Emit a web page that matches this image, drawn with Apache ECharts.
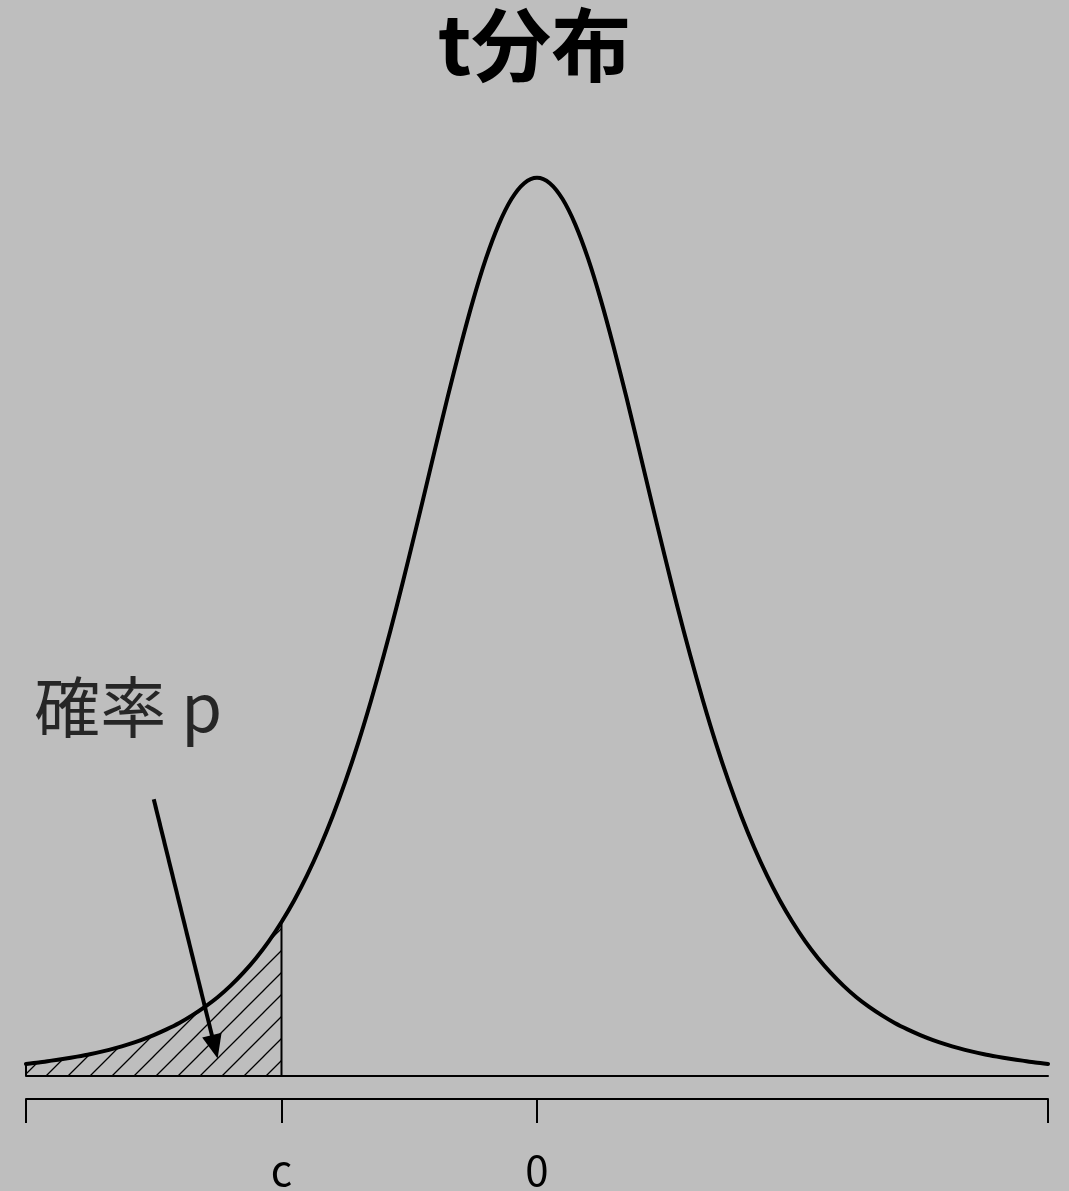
<!DOCTYPE html>
<html>
<head>
<meta charset="utf-8">
<script src="https://cdn.jsdelivr.net/npm/echarts@6/dist/echarts.min.js"></script>
<style>
html,body{margin:0;padding:0;background:#bebebe;}
#main{width:1069px;height:1191px;}
</style>
</head>
<body>
<div id="main"></div>
<script>
// t distribution curve (x from -4 to 4, step 0.1)
var xs = [-4.0, -3.9, -3.8, -3.7, -3.6, -3.5, -3.4, -3.3, -3.2, -3.1,
          -3.0, -2.9, -2.8, -2.7, -2.6, -2.5, -2.4, -2.3, -2.2, -2.1,
          -2.0, -1.9, -1.8, -1.7, -1.6, -1.5, -1.4, -1.3, -1.2, -1.1,
          -1.0, -0.9, -0.8, -0.7, -0.6, -0.5, -0.4, -0.3, -0.2, -0.1,
           0.0,  0.1,  0.2,  0.3,  0.4,  0.5,  0.6,  0.7,  0.8,  0.9,
           1.0,  1.1,  1.2,  1.3,  1.4,  1.5,  1.6,  1.7,  1.8,  1.9,
           2.0,  2.1,  2.2,  2.3,  2.4,  2.5,  2.6,  2.7,  2.8,  2.9,
           3.0,  3.1,  3.2,  3.3,  3.4,  3.5,  3.6,  3.7,  3.8,  3.9, 4.0];
var density = [0.0051, 0.0057, 0.0065, 0.0073, 0.0082, 0.0092, 0.0104, 0.0118, 0.0134, 0.0152,
               0.0173, 0.0197, 0.0224, 0.0256, 0.0292, 0.0333, 0.0381, 0.0436, 0.0498, 0.0569,
               0.0651, 0.0743, 0.0848, 0.0966, 0.1098, 0.1245, 0.1407, 0.1585, 0.1777, 0.1981,
               0.2197, 0.2419, 0.2645, 0.2868, 0.3081, 0.3279, 0.3454, 0.3598, 0.3706, 0.3773,
               0.3796, 0.3773, 0.3706, 0.3598, 0.3454, 0.3279, 0.3081, 0.2868, 0.2645, 0.2419,
               0.2197, 0.1981, 0.1777, 0.1585, 0.1407, 0.1245, 0.1098, 0.0966, 0.0848, 0.0743,
               0.0651, 0.0569, 0.0498, 0.0436, 0.0381, 0.0333, 0.0292, 0.0256, 0.0224, 0.0197,
               0.0173, 0.0152, 0.0134, 0.0118, 0.0104, 0.0092, 0.0082, 0.0073, 0.0065, 0.0057, 0.0051];
var cValue = -2;
var tickValues = [-4, -2, 0, 4];
var tickLabels = ['', 'c', '0', ''];
var arrowFrom = [-3.0, 0.117];
var arrowTo = [-2.53, 0.014];
var labelPos = [-3.2, 0.156];
var labelText = '確率 p';
var titleText = 't分布';

var curve = xs.map(function (x, i) { return [x, density[i]]; });
var tail = curve.filter(function (p) { return p[0] <= cValue + 1e-9; });
var cIdx = xs.indexOf(cValue);
var leftEdge = [[xs[0], 0], [xs[0], density[0]]];
var cEdge = [[cValue, 0], [cValue, density[cIdx]]];

// hatch pattern
var s = 22;
var cv = document.createElement('canvas');
cv.width = s; cv.height = s;
var ctx = cv.getContext('2d');
ctx.strokeStyle = '#000';
ctx.lineWidth = 1.3;
ctx.beginPath();
ctx.moveTo(0, s); ctx.lineTo(s, 0);
ctx.moveTo(-3, 3); ctx.lineTo(3, -3);
ctx.moveTo(s - 3, s + 3); ctx.lineTo(s + 3, s - 3);
ctx.stroke();

var FONT = '"Noto Sans CJK JP", "Noto Sans", sans-serif';
var chart = echarts.init(document.getElementById('main'));
chart.setOption({
  backgroundColor: '#bebebe',
  animation: false,
  title: {
    text: titleText, left: 'center', top: 0,
    textStyle: { fontSize: 80, fontWeight: 'bold', color: '#000', fontFamily: FONT }
  },
  grid: { left: 26, right: 21, top: 129.5, bottom: 110 },
  xAxis: [
    { type: 'value', min: -4, max: 4, position: 'bottom',
      axisLine: { show: true, onZero: false, lineStyle: { color: '#000', width: 2 } },
      axisTick: { show: false }, axisLabel: { show: false }, splitLine: { show: false } },
    { type: 'value', min: -4, max: 4, position: 'bottom', offset: 23,
      axisLine: { show: true, onZero: false, lineStyle: { color: '#000', width: 2 } },
      axisTick: { show: true, length: 24, customValues: tickValues, lineStyle: { color: '#000', width: 2 } },
      axisLabel: { show: true, margin: 50, customValues: tickValues,
        formatter: function (v) { var i = tickValues.indexOf(v); return i >= 0 ? tickLabels[i] : ''; },
        color: '#000', fontSize: 42, fontFamily: FONT, showMinLabel: true, showMaxLabel: true },
      splitLine: { show: false } }
  ],
  yAxis: { type: 'value', min: 0, max: 0.4, show: false, splitLine: { show: false } },
  series: [
    { type: 'line', data: tail, smooth: 0.3, symbol: 'none', silent: true,
      lineStyle: { width: 0 },
      areaStyle: { color: { image: cv, repeat: 'repeat' }, opacity: 1 } },
    { type: 'line', data: leftEdge, symbol: 'none', lineStyle: { color: '#000', width: 2 } },
    { type: 'line', data: cEdge, symbol: 'none', lineStyle: { color: '#000', width: 2 } },
    { type: 'line', data: curve, smooth: 0.3, symbol: 'none',
      lineStyle: { color: '#000', width: 4, cap: 'round', join: 'round' },
      markLine: {
        silent: true, animation: false,
        lineStyle: { color: '#000', width: 4, type: 'solid' },
        label: { show: false },
        data: [[
          { coord: arrowFrom, symbol: 'none' },
          { coord: arrowTo, symbol: 'triangle', symbolSize: [20, 24], symbolOffset: [0, -4] }
        ]]
      } },
    { type: 'scatter', data: [labelPos], symbolSize: 0, silent: true,
      label: { show: true, position: 'inside', formatter: labelText,
        color: '#000', fontSize: 66, fontFamily: FONT } }
  ]
});
</script>
</body>
</html>
